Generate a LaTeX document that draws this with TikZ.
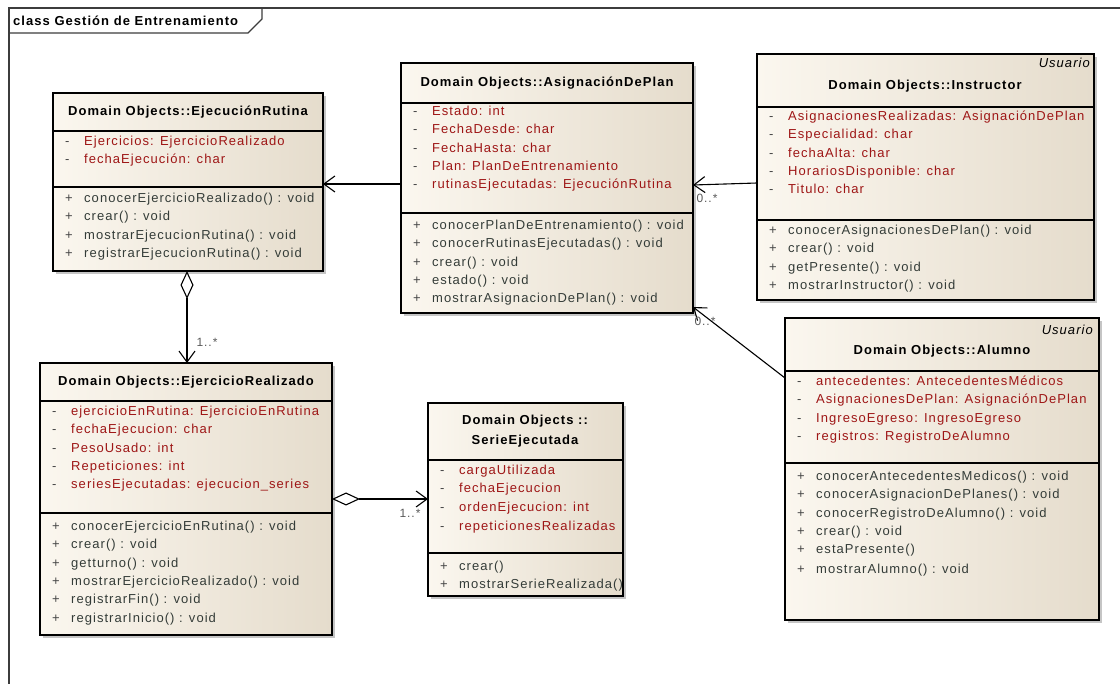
\documentclass[tikz,border=0pt]{standalone}
\usepackage{fontspec}
\newfontfamily\umlfont[LetterSpace=8]{Liberation Sans}
\usetikzlibrary{arrows.meta,shadows}
\definecolor{boxlight}{RGB}{251,247,239}
\definecolor{boxdark}{RGB}{229,220,204}
\definecolor{attrred}{RGB}{158,22,22}
\definecolor{opgray}{RGB}{52,60,56}
\definecolor{markgray}{RGB}{70,70,70}
\definecolor{framegray}{RGB}{60,60,60}
\begin{document}
\begin{tikzpicture}[x=1pt,y=-1pt,
  umlbox/.style={draw=black, line width=1.4pt, rectangle, anchor=north west, inner sep=0pt, outer sep=0pt,
    left color=boxlight, right color=boxdark,
    drop shadow={shadow xshift=3pt, shadow yshift=-3pt, fill=black!45, opacity=0.5}},
  sepline/.style={line width=1.2pt},
  umltitle/.style={inner sep=0pt, font=\umlfont\bfseries\fontsize{13}{20}\selectfont},
  stereo/.style={anchor=east, inner sep=0pt, font=\umlfont\itshape\fontsize{13}{15}\selectfont},
  member/.style={anchor=west, inner sep=0pt, text height=9pt, text depth=3pt, font=\umlfont\fontsize{13}{15}\selectfont},
  attr/.style={member, text=attrred, execute at begin node={\makebox[19pt][l]{\textcolor{markgray}{-}}}},
  oper/.style={member, text=opgray, execute at begin node={\makebox[19pt][l]{\textcolor{markgray}{+}}}},
  mult/.style={inner sep=0pt, text=black!65, font=\umlfont\fontsize{12}{13}\selectfont},
  assoc/.style={line width=1.1pt, -{Straight Barb[length=11pt,width=16pt,line width=1.1pt]}},
  aggr/.style={line width=1.1pt, {Diamond[open,length=28pt,width=13pt,line width=1.1pt]}-{Straight Barb[length=11pt,width=16pt,line width=1.1pt]}},
  frameline/.style={draw=framegray, line width=1.4pt}]
\useasboundingbox (0,0) rectangle (1120,684);

% frame
\path[frameline] (1120,8) -- (9,8) -- (9,684);
\path[frameline] (9,33) -- (248,33) -- (262,19) -- (262,8);
\node[anchor=west, inner sep=0pt, font=\umlfont\bfseries\fontsize{13}{15}\selectfont] (frame-t) at (13,21) {class Gestión de Entrenamiento};

% EjecucionRutina
\node[umlbox, minimum width=270pt, minimum height=178pt] (rutina) at (53,93) {};
\path[draw,sepline] (rutina.west |- 0,131) -- (rutina.east |- 0,131);
\path[draw,sepline] (rutina.west |- 0,187) -- (rutina.east |- 0,187);
\node[umltitle] (rutina-t) at (188,112) {Domain Objects::EjecuciónRutina};
\node[attr] (rutina-a1) at (65,143) {Ejercicios: EjercicioRealizado};
\node[attr] (rutina-a2) at (65,161) {fechaEjecución: char};
\node[oper] (rutina-o1) at (65,200) {conocerEjercicioRealizado() : void};
\node[oper] (rutina-o2) at (65,218) {crear() : void};
\node[oper] (rutina-o3) at (65,237) {mostrarEjecucionRutina() : void};
\node[oper] (rutina-o4) at (65,255) {registrarEjecucionRutina() : void};

% AsignacionDePlan
\node[umlbox, minimum width=292pt, minimum height=250pt] (asig) at (401,63) {};
\path[draw,sepline] (asig.west |- 0,103) -- (asig.east |- 0,103);
\path[draw,sepline] (asig.west |- 0,213) -- (asig.east |- 0,213);
\node[umltitle] (asig-t) at (547,83) {Domain Objects::AsignaciónDePlan};
\node[attr] (asig-a1) at (413,113) {Estado: int};
\node[attr] (asig-a2) at (413,131) {FechaDesde: char};
\node[attr] (asig-a3) at (413,150) {FechaHasta: char};
\node[attr] (asig-a4) at (413,168) {Plan: PlanDeEntrenamiento};
\node[attr] (asig-a5) at (413,186) {rutinasEjecutadas: EjecuciónRutina};
\node[oper] (asig-o1) at (413,227) {conocerPlanDeEntrenamiento() : void};
\node[oper] (asig-o2) at (413,245) {conocerRutinasEjecutadas() : void};
\node[oper] (asig-o3) at (413,264) {crear() : void};
\node[oper] (asig-o4) at (413,282) {estado() : void};
\node[oper] (asig-o5) at (413,300) {mostrarAsignacionDePlan() : void};

% Instructor
\node[umlbox, minimum width=337pt, minimum height=246pt] (instr) at (757,54) {};
\path[draw,sepline] (instr.west |- 0,107) -- (instr.east |- 0,107);
\path[draw,sepline] (instr.west |- 0,220) -- (instr.east |- 0,220);
\node[stereo] (instr-s) at (1090,63) {Usuario};
\node[umltitle] (instr-t) at (925,86) {Domain Objects::Instructor};
\node[attr] (instr-a1) at (769,118) {AsignacionesRealizadas: AsignaciónDePlan};
\node[attr] (instr-a2) at (769,136) {Especialidad: char};
\node[attr] (instr-a3) at (769,155) {fechaAlta: char};
\node[attr] (instr-a4) at (769,173) {HorariosDisponible: char};
\node[attr] (instr-a5) at (769,191) {Titulo: char};
\node[oper] (instr-o1) at (769,232) {conocerAsignacionesDePlan() : void};
\node[oper] (instr-o2) at (769,250) {crear() : void};
\node[oper] (instr-o3) at (769,269) {getPresente() : void};
\node[oper] (instr-o4) at (769,287) {mostrarInstructor() : void};

% Alumno
\node[umlbox, minimum width=314pt, minimum height=302pt] (alumno) at (785,318) {};
\path[draw,sepline] (alumno.west |- 0,371) -- (alumno.east |- 0,371);
\path[draw,sepline] (alumno.west |- 0,463) -- (alumno.east |- 0,463);
\node[stereo] (alumno-s) at (1093,330) {Usuario};
\node[umltitle] (alumno-t) at (942,351) {Domain Objects::Alumno};
\node[attr] (alumno-a1) at (797,383) {antecedentes: AntecedentesMédicos};
\node[attr] (alumno-a2) at (797,401) {AsignacionesDePlan: AsignaciónDePlan};
\node[attr] (alumno-a3) at (797,420) {IngresoEgreso: IngresoEgreso};
\node[attr] (alumno-a4) at (797,438) {registros: RegistroDeAlumno};
\node[oper] (alumno-o1) at (797,478) {conocerAntecedentesMedicos() : void};
\node[oper] (alumno-o2) at (797,496) {conocerAsignacionDePlanes() : void};
\node[oper] (alumno-o3) at (797,515) {conocerRegistroDeAlumno() : void};
\node[oper] (alumno-o4) at (797,533) {crear() : void};
\node[oper] (alumno-o5) at (797,551) {estaPresente()};
\node[oper] (alumno-o6) at (797,570) {mostrarAlumno() : void};

% EjercicioRealizado
\node[umlbox, minimum width=292pt, minimum height=272pt] (ejer) at (40,363) {};
\path[draw,sepline] (ejer.west |- 0,401) -- (ejer.east |- 0,401);
\path[draw,sepline] (ejer.west |- 0,513) -- (ejer.east |- 0,513);
\node[umltitle] (ejer-t) at (186,382) {Domain Objects::EjercicioRealizado};
\node[attr] (ejer-a1) at (52,413) {ejercicioEnRutina: EjercicioEnRutina};
\node[attr] (ejer-a2) at (52,431) {fechaEjecucion: char};
\node[attr] (ejer-a3) at (52,450) {PesoUsado: int};
\node[attr] (ejer-a4) at (52,468) {Repeticiones: int};
\node[attr] (ejer-a5) at (52,486) {seriesEjecutadas: ejecucion\_series};
\node[oper] (ejer-o1) at (52,527) {conocerEjercicioEnRutina() : void};
\node[oper] (ejer-o2) at (52,545) {crear() : void};
\node[oper] (ejer-o3) at (52,564) {getturno() : void};
\node[oper] (ejer-o4) at (52,582) {mostrarEjercicioRealizado() : void};
\node[oper] (ejer-o5) at (52,600) {registrarFin() : void};
\node[oper] (ejer-o6) at (52,619) {registrarInicio() : void};

% SerieEjecutada
\node[umlbox, minimum width=195pt, minimum height=193pt] (serie) at (428,403) {};
\path[draw,sepline] (serie.west |- 0,460) -- (serie.east |- 0,460);
\path[draw,sepline] (serie.west |- 0,553) -- (serie.east |- 0,553);
\node[umltitle, align=center] (serie-t) at (525,431) {Domain Objects ::\\SerieEjecutada};
\node[attr] (serie-a1) at (440,472) {cargaUtilizada};
\node[attr] (serie-a2) at (440,490) {fechaEjecucion};
\node[attr] (serie-a3) at (440,509) {ordenEjecucion: int};
\node[attr] (serie-a4) at (440,527) {repeticionesRealizadas};
\node[oper] (serie-o1) at (440,567) {crear()};
\node[oper] (serie-o2) at (440,585) {mostrarSerieRealizada()};

% connectors
\path[draw,assoc] (asig.west |- 0,184) -- (rutina.east |- 0,184);
\path[draw,assoc] (instr.west |- 0,183) -- (asig.east |- 0,185);
\path[draw,assoc] (alumno.west |- 0,378) -- ([yshift=6pt]asig.south east);
\path[draw,aggr] (rutina.south -| 187,0) -- (ejer.north -| 187,0);
\path[draw,aggr] (ejer.east |- 0,499) -- (serie.west |- 0,499);

\node[mult] (m1) at (707,198) {0..*};
\node[mult] (m2) at (705,321) {0..*};
\node[mult] (m3) at (207,342) {1..*};
\node[mult] (m4) at (410,513) {1..*};
\end{tikzpicture}
\end{document}
